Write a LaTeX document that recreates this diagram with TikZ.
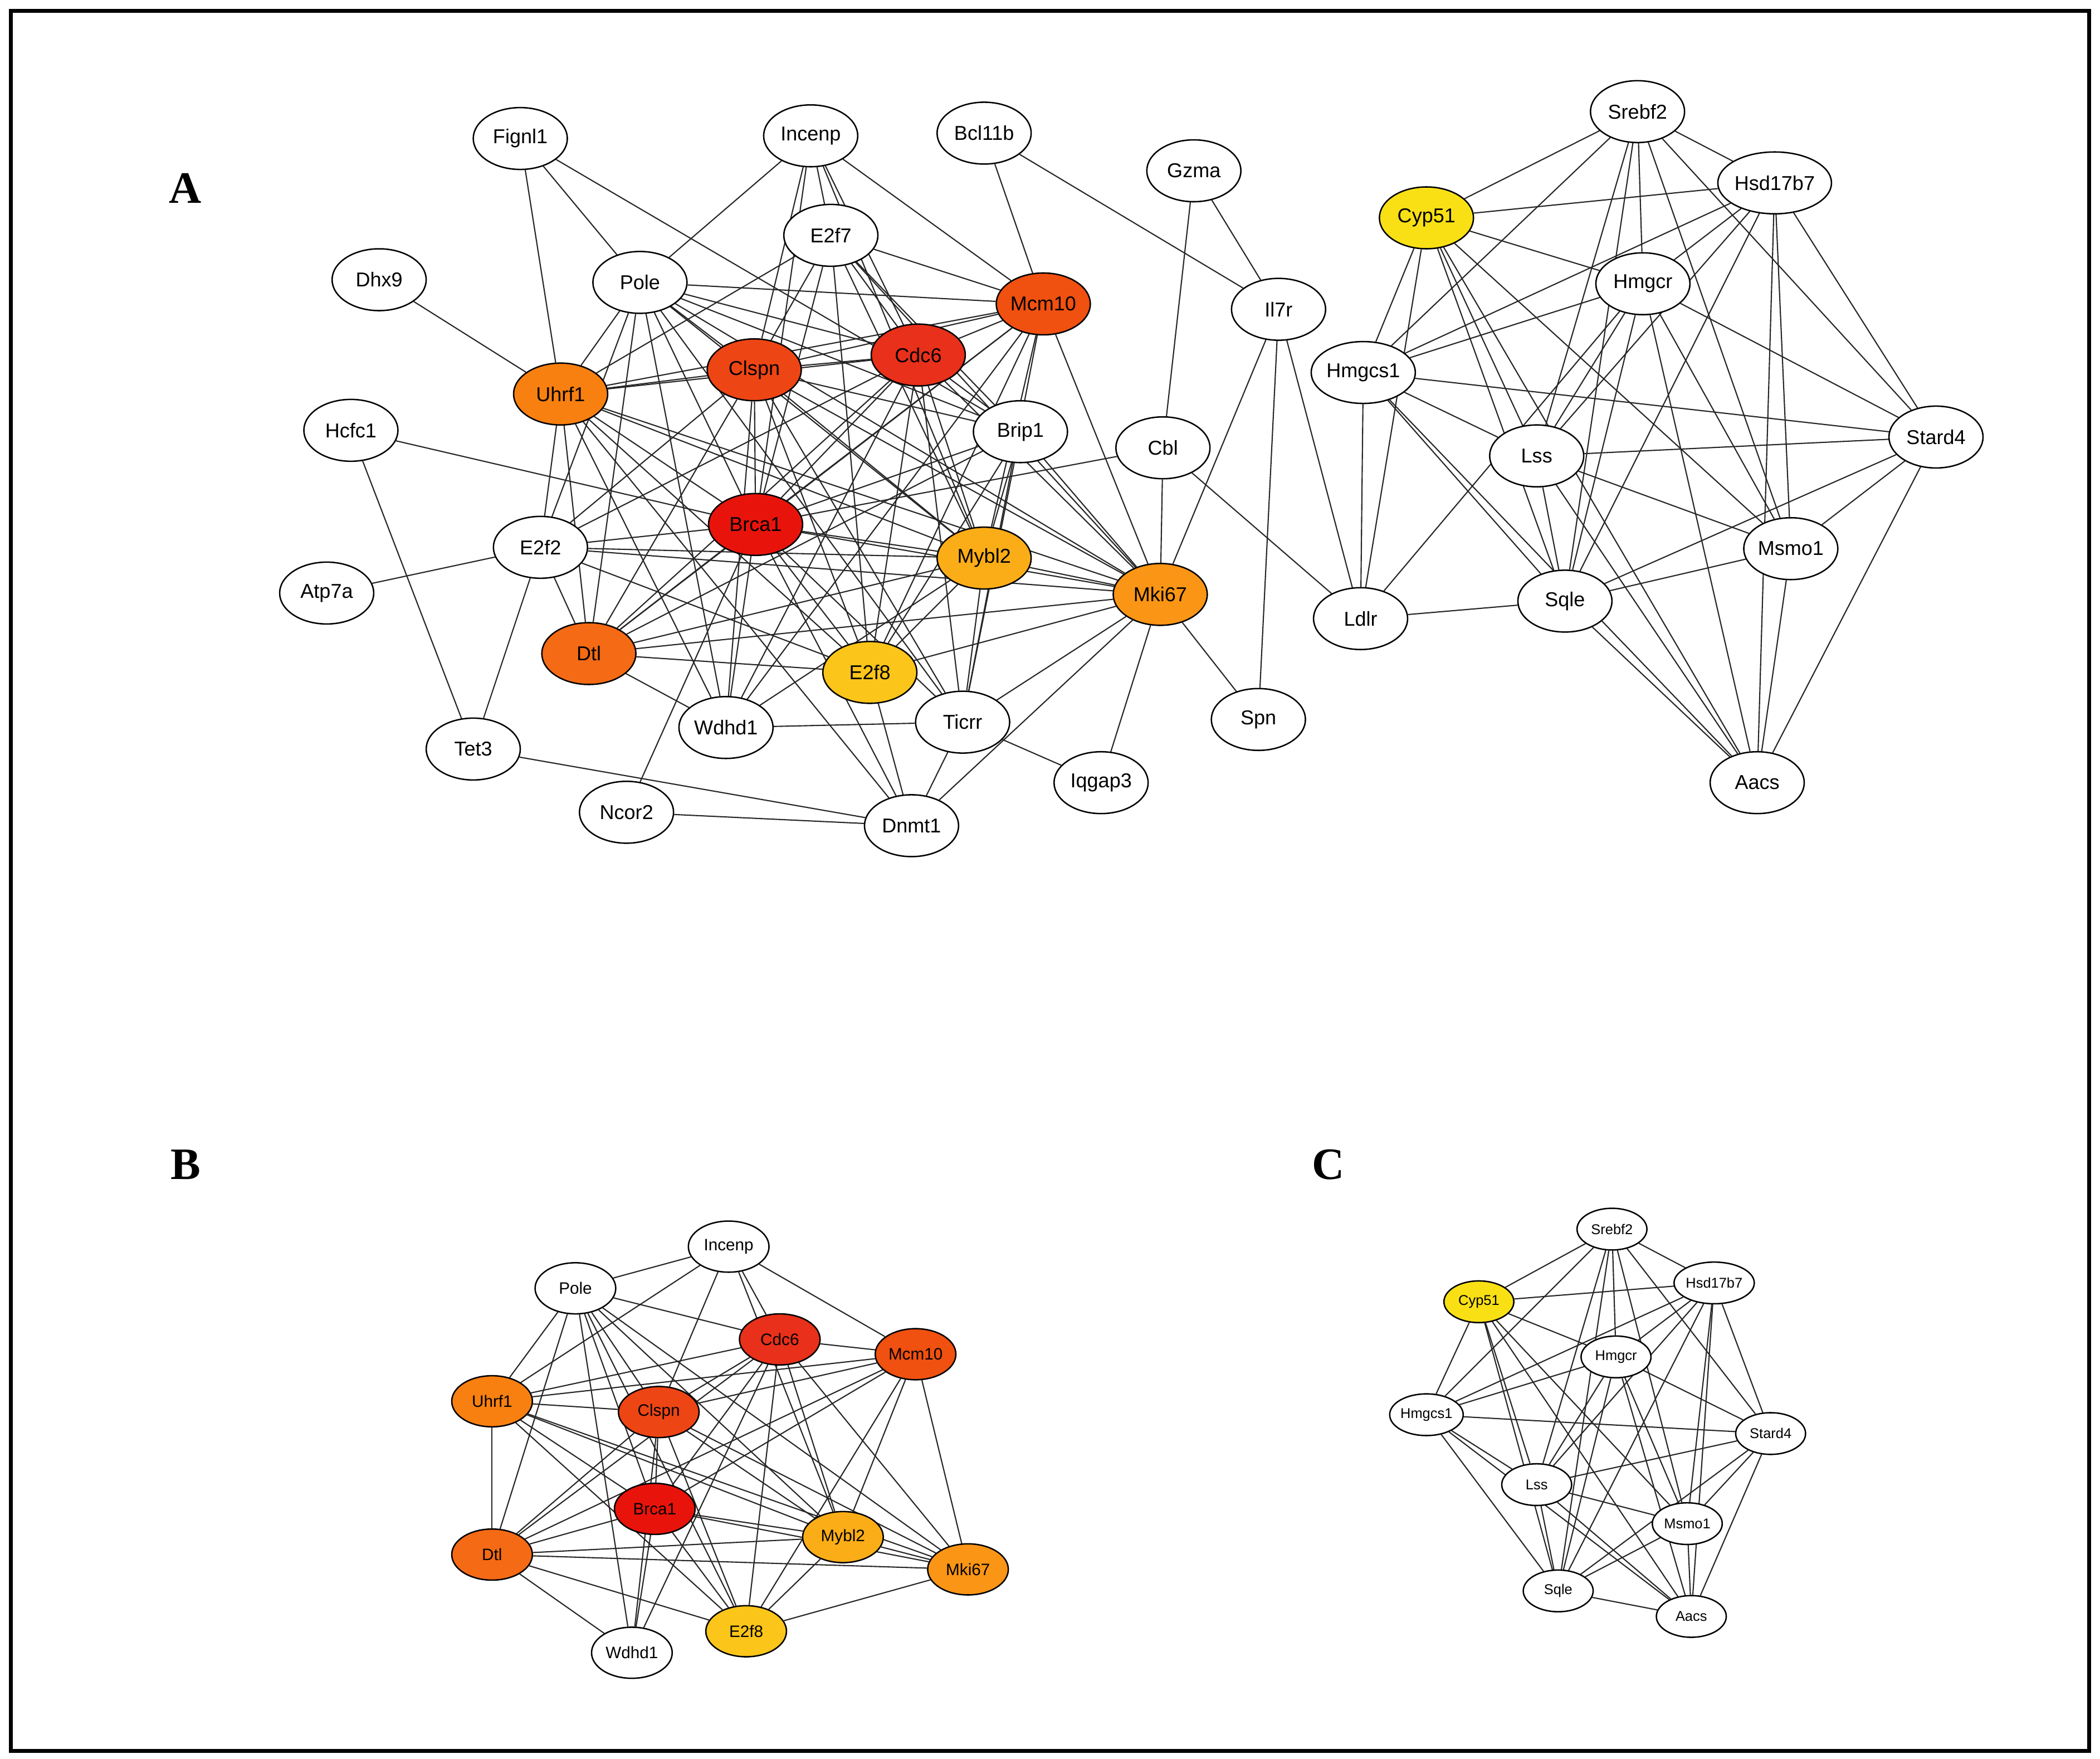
\documentclass[tikz,border=0pt]{standalone}
\usepackage{fontspec}
\setmainfont{Liberation Sans}
\newfontfamily\serifb{Liberation Serif}
\usetikzlibrary{shapes.geometric,backgrounds}
\definecolor{cBrca}{RGB}{232,20,12}
\definecolor{cCdc}{RGB}{232,48,26}
\definecolor{cMcm}{RGB}{240,80,16}
\definecolor{cClspn}{RGB}{238,69,21}
\definecolor{cDtl}{RGB}{245,106,21}
\definecolor{cUhrf}{RGB}{248,128,16}
\definecolor{cMki}{RGB}{250,149,21}
\definecolor{cMybl}{RGB}{251,173,24}
\definecolor{cE2f}{RGB}{251,197,26}
\definecolor{cCyp}{RGB}{248,224,21}
\tikzset{
 gn/.style={ellipse,draw=black,line width=0.6pt,inner sep=0pt},
 ga/.style={gn,minimum width=1.4cm,minimum height=0.92cm,font=\fontsize{8.5}{9}\selectfont},
 gb/.style={gn,minimum width=1.2cm,minimum height=0.76cm,font=\fontsize{7}{8}\selectfont},
 gc/.style={gn,minimum width=1.04cm,minimum height=0.62cm,font=\fontsize{6}{7}\selectfont},
 ed/.style={line width=0.5pt,black!85},
 pl/.style={font=\serifb\bfseries\fontsize{19}{20}\selectfont}
}
\def\coreedges{Fignl1/Uhrf1,Fignl1/Pole,Fignl1/Brip1,Incenp/Pole,Incenp/Clspn,Incenp/Cdc6,Incenp/E2f7,Incenp/Mcm10,Incenp/Brca1,Incenp/Mybl2,
Bcl11b/Mcm10,Bcl11b/Il7r,Gzma/Il7r,Gzma/Cbl,Il7r/Ldlr,Il7r/Spn,Il7r/Mki67,Dhx9/Uhrf1,Hcfc1/Brca1,Hcfc1/Tet3,Atp7a/E2f2,Cbl/Mki67,Cbl/Ldlr,Cbl/Brca1,
Tet3/E2f2,Tet3/Dnmt1,Ncor2/Dnmt1,Ncor2/Brca1,Spn/Mki67,Iqgap3/Ticrr,Iqgap3/Mki67,
Pole/Uhrf1,Pole/Clspn,Pole/Cdc6,Pole/Mcm10,Pole/Brca1,Pole/E2f2,Pole/Dtl,Pole/Mybl2,Pole/Mki67,Pole/Brip1,Pole/Wdhd1,Pole/Ticrr,
E2f7/Clspn,E2f7/Cdc6,E2f7/Mcm10,E2f7/Brca1,E2f7/Mybl2,E2f7/Mki67,E2f7/Brip1,E2f7/E2f8,E2f7/Uhrf1,
Mcm10/Clspn,Mcm10/Cdc6,Mcm10/Brca1,Mcm10/Uhrf1,Mcm10/Mybl2,Mcm10/Mki67,Mcm10/E2f8,Mcm10/Dtl,Mcm10/Ticrr,Mcm10/Wdhd1,
Clspn/Cdc6,Clspn/Uhrf1,Clspn/Brca1,Clspn/Brip1,Clspn/E2f2,Clspn/Mybl2,Clspn/Mki67,Clspn/Dtl,Clspn/E2f8,Clspn/Wdhd1,Clspn/Ticrr,
Cdc6/Uhrf1,Cdc6/Brca1,Cdc6/Brip1,Cdc6/Mybl2,Cdc6/Mki67,Cdc6/Dtl,Cdc6/E2f8,Cdc6/Wdhd1,Cdc6/Ticrr,Cdc6/E2f2,
Uhrf1/Brca1,Uhrf1/E2f2,Uhrf1/Dtl,Uhrf1/Mybl2,Uhrf1/Mki67,Uhrf1/E2f8,Uhrf1/Wdhd1,Uhrf1/Dnmt1,
Brip1/Brca1,Brip1/Mybl2,Brip1/Mki67,Brip1/Dtl,Brip1/Ticrr,Brip1/E2f8,
Brca1/E2f2,Brca1/Mybl2,Brca1/Mki67,Brca1/Dtl,Brca1/E2f8,Brca1/Wdhd1,Brca1/Ticrr,Brca1/Dnmt1,
E2f2/Mybl2,E2f2/Mki67,E2f2/Dtl,E2f2/E2f8,Mybl2/Mki67,Mybl2/Dtl,Mybl2/E2f8,Mybl2/Ticrr,Mybl2/Wdhd1,
Mki67/Dtl,Mki67/E2f8,Mki67/Ticrr,Mki67/Dnmt1,Dtl/E2f8,Dtl/Wdhd1,Wdhd1/Ticrr,Ticrr/Dnmt1,E2f8/Dnmt1,
Ldlr/Sqle,Ldlr/Hmgcs1,Ldlr/Cyp51,Ldlr/Hmgcr}
\def\choledges{Srebf2/Cyp51,Srebf2/Hsd17b7,Srebf2/Hmgcr,Srebf2/Hmgcs1,Srebf2/Lss,Srebf2/Sqle,Srebf2/Stard4,Srebf2/Msmo1,
Hsd17b7/Cyp51,Hsd17b7/Hmgcr,Hsd17b7/Hmgcs1,Hsd17b7/Lss,Hsd17b7/Sqle,Hsd17b7/Stard4,Hsd17b7/Msmo1,Hsd17b7/Aacs,
Cyp51/Hmgcr,Cyp51/Hmgcs1,Cyp51/Lss,Cyp51/Sqle,Cyp51/Msmo1,Cyp51/Aacs,
Hmgcr/Hmgcs1,Hmgcr/Lss,Hmgcr/Sqle,Hmgcr/Stard4,Hmgcr/Msmo1,Hmgcr/Aacs,
Hmgcs1/Lss,Hmgcs1/Sqle,Hmgcs1/Stard4,Hmgcs1/Aacs,Lss/Stard4,Lss/Msmo1,Lss/Sqle,Lss/Aacs,
Stard4/Msmo1,Stard4/Sqle,Stard4/Aacs,Msmo1/Sqle,Msmo1/Aacs,Sqle/Aacs}
\def\bedges{Incenp/Pole,Incenp/Clspn,Incenp/Cdc6,Incenp/Mcm10,Incenp/Mybl2,Incenp/Uhrf1,
Pole/Uhrf1,Pole/Clspn,Pole/Cdc6,Pole/Brca1,Pole/Dtl,Pole/Mybl2,Pole/Mki67,Pole/Wdhd1,Pole/E2f8,
Mcm10/Clspn,Mcm10/Cdc6,Mcm10/Brca1,Mcm10/Uhrf1,Mcm10/Mybl2,Mcm10/Mki67,Mcm10/Dtl,Mcm10/E2f8,
Clspn/Cdc6,Clspn/Uhrf1,Clspn/Brca1,Clspn/Mybl2,Clspn/Mki67,Clspn/Dtl,Clspn/E2f8,Clspn/Wdhd1,
Cdc6/Uhrf1,Cdc6/Brca1,Cdc6/Mybl2,Cdc6/Mki67,Cdc6/Dtl,Cdc6/E2f8,Cdc6/Wdhd1,
Uhrf1/Brca1,Uhrf1/Dtl,Uhrf1/Mybl2,Uhrf1/Mki67,Uhrf1/E2f8,
Brca1/Mybl2,Brca1/Mki67,Brca1/Dtl,Brca1/E2f8,Brca1/Wdhd1,Mybl2/Mki67,Mybl2/Dtl,Mybl2/E2f8,
Mki67/Dtl,Mki67/E2f8,Dtl/E2f8,Dtl/Wdhd1}
\begin{document}
\begin{tikzpicture}[x=0.02cm,y=-0.02cm]
\useasboundingbox (0,0) rectangle (1562,1308);
\draw[line width=1.6pt] (8,8) rectangle (1554,1302);
\node[pl] (lA) at (138,140) {A};
\node[pl] (lB) at (138,866) {B};
\node[pl] (lC) at (988,866) {C};
% panel A
\foreach \n/\x/\y/\c in {Fignl1/387/103/white,Incenp/603/101/white,Bcl11b/732/99/white,Gzma/888/127/white,E2f7/618/175/white,
Dhx9/282/208/white,Pole/476/210/white,Mcm10/776/226/cMcm,Il7r/951/230/white,Clspn/561/275/cClspn,Cdc6/683/264/cCdc,
Uhrf1/417/293/cUhrf,Hcfc1/261/320/white,Brip1/759/321/white,Cbl/865/333/white,Brca1/562/390/cBrca,E2f2/402/407/white,
Atp7a/243/441/white,Mybl2/732/415/cMybl,Mki67/863/442/cMki,Dtl/438/486/cDtl,E2f8/647/500/cE2f,Wdhd1/540/541/white,
Ticrr/716/537/white,Spn/936/535/white,Tet3/352/557/white,Iqgap3/819/582/white,Ncor2/466/604/white,Dnmt1/678/614/white,
Srebf2/1218/83/white,Hsd17b7/1320/136/white,Cyp51/1061/162/cCyp,Hmgcr/1222/211/white,Hmgcs1/1014/277/white,
Stard4/1440/325/white,Lss/1143/339/white,Msmo1/1332/408/white,Ldlr/1012/460/white,Sqle/1164/447/white,Aacs/1307/582/white}
 \node[ga,fill=\c] (a\n) at (\x,\y) {\n};
% panel B
\foreach \n/\x/\y/\c in {Incenp/542/927/white,Pole/428/958/white,Cdc6/580/996/cCdc,Mcm10/681/1007/cMcm,Uhrf1/366/1042/cUhrf,
Clspn/490/1050/cClspn,Brca1/487/1122/cBrca,Mybl2/627/1143/cMybl,Mki67/720/1167/cMki,Dtl/366/1156/cDtl,E2f8/555/1213/cE2f,Wdhd1/470/1229/white}
 \node[gb,fill=\c] (b\n) at (\x,\y) {\n};
% panel C
\foreach \n/\x/\y/\c in {Srebf2/1199/914/white,Cyp51/1100/968/cCyp,Hsd17b7/1275/954/white,Hmgcr/1202/1009/white,Hmgcs1/1061/1052/white,
Stard4/1317/1066/white,Lss/1143/1104/white,Msmo1/1255/1133/white,Sqle/1159/1183/white,Aacs/1258/1202/white}
 \node[gc,fill=\c] (c\n) at (\x,\y) {\n};
\begin{pgfonlayer}{background}
\foreach \u/\v in \coreedges {\draw[ed] (a\u) -- (a\v);}
\foreach \u/\v in \choledges {\draw[ed] (a\u) -- (a\v); \draw[ed] (c\u) -- (c\v);}
\foreach \u/\v in \bedges {\draw[ed] (b\u) -- (b\v);}
\end{pgfonlayer}
\end{tikzpicture}
\end{document}
